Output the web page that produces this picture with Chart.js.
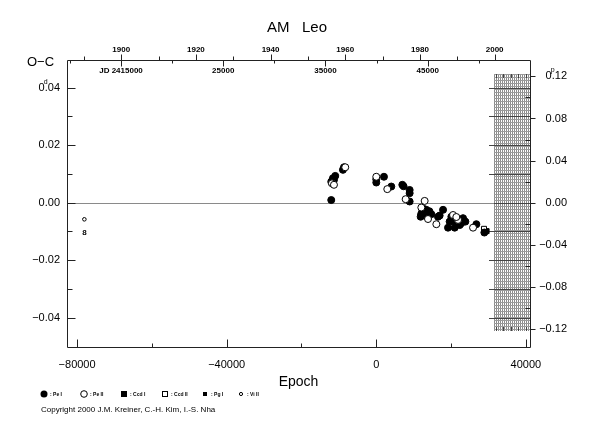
<!DOCTYPE html>
<html><head><meta charset="utf-8">
<script src="https://cdn.jsdelivr.net/npm/chart.js@4.4.1/dist/chart.umd.min.js"></script>
<style>html,body{margin:0;padding:0;background:#fff;}#wrap{position:relative;width:590px;height:425px;}</style>
</head><body><div id="wrap"><canvas id="c" width="590" height="425"></canvas></div>
<script>
// ---- data ----
const chartTitle = "AM   Leo";
const yAxisTitle = "O\u2212C";
const xAxisTitle = "Epoch";
const copyright = "Copyright 2000 J.M. Kreiner, C.-H. Kim, I.-S. Nha";
const period = 0.36579;
const T0 = 2439970;
const xTicks = [-80000, -40000, 0, 40000];
const xMinorTicks = [-60000, -20000, 20000];
const yTicks = [0.04, 0.02, 0, -0.02, -0.04];
const yMinorTicks = [0.03, 0.01, -0.01, -0.03];
const phaseTicks = [0.12, 0.08, 0.04, 0, -0.04, -0.08, -0.12];
const phaseMinorTicks = [0.10, 0.06, 0.02, -0.02, -0.06, -0.10];
const yearTicks = [1900, 1920, 1940, 1960, 1980, 2000];
const yearMinorTicks = [1890, 1910, 1930, 1950, 1970, 1990];
const jdTicks = [15000, 25000, 35000, 45000];
const jdTickLabels = ["JD 2415000", "25000", "35000", "45000"];
const jdMinorTicks = [10000, 20000, 30000, 40000, 50000];
const legendLabels = [": Pe I", ": Pe II", ": Ccd I", ": Ccd II", ": Pg I", ": Vi II"];

const peI_E  = [-12040,-10970,-11590,-12040,-11300,-8640,-8920,0,0,2050,4010,6960,7300,8920,8920,8920,11860,12300,13380,14200,13110,14720,16500,16940,17850,20070,20960,21500,19180,20960,22300,23200,23820,22700,19610,26760,28900,12500,13800,12000];
const peI_OC = [0.0009,0.0093,0.0085,0.0073,0.0080,0.0123,0.0114,0.0081,0.0070,0.0090,0.0056,0.0062,0.0057,0.0044,0.0033,0.0004,-0.0049,-0.0031,-0.0025,-0.0030,-0.0043,-0.0040,-0.0049,-0.0045,-0.0025,-0.0049,-0.0066,-0.0060,-0.0087,-0.0087,-0.0078,-0.0054,-0.0066,-0.0072,-0.0066,-0.0075,-0.0104,-0.0020,-0.0035,-0.0040];
const peII_E  = [-11860,-11320,-8300,0,2940,7850,12930,12040,13830,16060,20520,21860,21400,25870];
const peII_OC = [0.0067,0.0062,0.0123,0.0090,0.0047,0.0012,0.0006,-0.0017,-0.0057,-0.0075,-0.0043,-0.0060,-0.0050,-0.0087];
const ccdI_E = [29500];  const ccdI_OC = [-0.0099];
const ccdII_E = [28800]; const ccdII_OC = [-0.0091];
const pgI_E = [];        const pgI_OC = [];
const viII_E = [-78060]; const viII_OC = [-0.0058];
const viII_count = ["8"];
const hatchEpochStart = 31600;
const hatchOC = [-0.0448, 0.0448];

const xMin = -82700, xMax = 41100, yMin = -0.0502, yMax = 0.0496;

// ---- helpers ----
const epochOfJD = jd => (jd - T0) / period;
const yearOfEpoch = e => 2000 + (T0 + period * e - 2451544.5) / 365.25;
const epochOfYear = y => epochOfJD(2451544.5 + (y - 2000) * 365.25);
const pts = (E, OC) => E.map((e, i) => ({x: e, y: OC[i]}));
const fmt = v => (Math.abs(v) < 1e-9 ? "0.00" : (v < 0 ? "\u2212" : "") + Math.abs(v).toFixed(2));
const FONT = "'Liberation Sans', Arial, Helvetica, sans-serif";
const noGrid = {display: false, drawTicks: false, tickLength: 0};

const deco = {
  id: 'deco',
  beforeDatasetsDraw(chart) {
    const {ctx, chartArea: a, scales: {x, y}} = chart;
    ctx.save();
    // hatched region
    const hx0 = Math.round(x.getPixelForValue(hatchEpochStart));
    const hx1 = Math.round(a.right);
    const hy0 = Math.round(y.getPixelForValue(hatchOC[1]));
    const hy1 = Math.round(y.getPixelForValue(hatchOC[0]));
    ctx.lineWidth = 1;
    ctx.strokeStyle = '#8c8c8c';
    ctx.beginPath();
    for (let px = hx0; px <= hx1; px += 2) { ctx.moveTo(px + 0.5, hy0); ctx.lineTo(px + 0.5, hy1); }
    ctx.stroke();
    ctx.strokeStyle = '#9a9a9a';
    ctx.beginPath();
    for (let py = hy0; py <= hy1; py += 3) { ctx.moveTo(hx0, py + 0.5); ctx.lineTo(hx1, py + 0.5); }
    ctx.stroke();
    // darker ruler ticks every 2000 epochs at hatch top/bottom
    ctx.strokeStyle = '#444';
    ctx.beginPath();
    for (let e = 32000; e <= xMax; e += 2000) {
      const p = Math.round(x.getPixelForValue(e)) + 0.5;
      ctx.moveTo(p, hy0); ctx.lineTo(p, hy0 + 4);
      ctx.moveTo(p, hy1); ctx.lineTo(p, hy1 - 4);
    }
    ctx.stroke();
    ctx.strokeStyle = '#444';
    ctx.beginPath();
    for (let k = -4; k <= 4; k++) {
      const py = Math.round(y.getPixelForValue(k * 0.01)) + 0.5;
      ctx.moveTo(hx0 - 5, py); ctx.lineTo(hx1, py);
    }
    ctx.stroke();
    // zero line
    const y0 = Math.round(y.getPixelForValue(0)) + 0.5;
    ctx.strokeStyle = '#8a8a8a';
    ctx.beginPath(); ctx.moveTo(a.left, y0); ctx.lineTo(hx0, y0); ctx.stroke();
    ctx.restore();
  },
  afterDraw(chart) {
    const {ctx, chartArea: a, scales: {x, y, phase}} = chart;
    ctx.save();
    const L = Math.round(a.left) + 0.5, R = Math.round(a.right) + 0.5;
    const T = Math.round(a.top) + 0.5, B = Math.round(a.bottom) + 0.5;
    ctx.strokeStyle = '#222';
    ctx.lineWidth = 1;
    ctx.beginPath();
    ctx.moveTo(L, T); ctx.lineTo(R, T); ctx.lineTo(R, B); ctx.lineTo(L, B); ctx.closePath();
    xTicks.forEach(v => { const p = Math.round(x.getPixelForValue(v)) + 0.5; ctx.moveTo(p, B); ctx.lineTo(p, B - 8); });
    xMinorTicks.forEach(v => { const p = Math.round(x.getPixelForValue(v)) + 0.5; ctx.moveTo(p, B); ctx.lineTo(p, B - 4); });
    yTicks.forEach(v => { const p = Math.round(y.getPixelForValue(v)) + 0.5; ctx.moveTo(L, p); ctx.lineTo(L + 8, p); });
    yMinorTicks.forEach(v => { const p = Math.round(y.getPixelForValue(v)) + 0.5; ctx.moveTo(L, p); ctx.lineTo(L + 5, p); });
    phaseTicks.forEach(v => { const p = Math.round(phase.getPixelForValue(v)) + 0.5; ctx.moveTo(R, p); ctx.lineTo(R + 5, p); });
    phaseMinorTicks.forEach(v => { const p = Math.round(phase.getPixelForValue(v)) + 0.5; ctx.moveTo(R, p); ctx.lineTo(R - 5, p); });
    yearTicks.forEach(v => { const p = Math.round(x.getPixelForValue(epochOfYear(v))) + 0.5; ctx.moveTo(p, T); ctx.lineTo(p, T - 6); });
    yearMinorTicks.forEach(v => { const p = Math.round(x.getPixelForValue(epochOfYear(v))) + 0.5; ctx.moveTo(p, T); ctx.lineTo(p, T - 4); });
    jdTicks.forEach(v => { const p = Math.round(x.getPixelForValue(epochOfJD(2400000 + v))) + 0.5; ctx.moveTo(p, T); ctx.lineTo(p, T + 6); });
    jdMinorTicks.forEach(v => { const p = Math.round(x.getPixelForValue(epochOfJD(2400000 + v))) + 0.5; ctx.moveTo(p, T); ctx.lineTo(p, T + 3); });
    ctx.stroke();

    ctx.fillStyle = '#000';
    ctx.textBaseline = 'middle';
    ctx.font = "bold 8px " + FONT;
    ctx.textAlign = 'center';
    jdTicks.forEach((v, i) => ctx.fillText(jdTickLabels[i], x.getPixelForValue(epochOfJD(2400000 + v)), 71));
    ctx.font = "15px " + FONT;
    ctx.fillText(chartTitle, 297, 28);
    ctx.font = "13px " + FONT;
    ctx.textAlign = 'left';
    ctx.fillText(yAxisTitle, 27, 62);
    ctx.font = "14px " + FONT;
    ctx.textAlign = 'center';
    ctx.fillText(xAxisTitle, (a.left + a.right) / 2, 382);
    // superscripts d and p
    ctx.font = "11px " + FONT;
    const wl = ctx.measureText("0.04").width, w0 = ctx.measureText("0").width;
    const ly = y.getPixelForValue(0.04);
    const dx = 60 - wl + w0 + 1;
    const wr = ctx.measureText("0.12").width;
    const ry = phase.getPixelForValue(0.12);
    const px = 567 - wr + w0 + 1;
    ctx.font = "7px " + FONT;
    ctx.textAlign = 'center';
    ctx.fillStyle = '#fff';
    ctx.fillRect(dx - 2, ly - 9, 4, 4);
    ctx.fillStyle = '#000';
    ctx.fillText("d", dx, ly - 6);
    ctx.fillText("p", px, ry - 6);
    ctx.font = "bold 8px " + FONT;
    viII_E.forEach((e, i) => ctx.fillText(viII_count[i], x.getPixelForValue(e), y.getPixelForValue(viII_OC[i]) + 13));
    // legend
    const ly2 = 394;
    const lx = [44, 84, 124, 165, 205, 241];
    ctx.lineWidth = 1;
    ctx.strokeStyle = '#000';
    ctx.beginPath(); ctx.arc(lx[0], ly2, 3.5, 0, Math.PI * 2); ctx.fill();
    ctx.beginPath(); ctx.arc(lx[1], ly2, 3.3, 0, Math.PI * 2); ctx.stroke();
    ctx.fillRect(lx[2] - 3, ly2 - 3, 6, 6);
    ctx.strokeRect(lx[3] - 2.5, ly2 - 2.5, 5, 5);
    ctx.fillRect(lx[4] - 2, ly2 - 2, 4, 4);
    ctx.beginPath(); ctx.arc(lx[5], ly2, 1.6, 0, Math.PI * 2); ctx.stroke();
    ctx.font = "bold 5px " + FONT;
    ctx.textAlign = 'left';
    legendLabels.forEach((t, i) => ctx.fillText(t, lx[i] + 6, ly2 + 0.5));
    ctx.font = "8px " + FONT;
    ctx.fillText(copyright, 41, 410);
    ctx.restore();
  }
};

new Chart(document.getElementById('c'), {
  type: 'scatter',
  data: {
    datasets: [
      {label: 'Pe II', data: pts(peII_E, peII_OC), pointStyle: 'circle', pointRadius: 3.5, backgroundColor: '#fff', borderColor: '#000', borderWidth: 1, xAxisID: 'x', yAxisID: 'y'},
      {label: 'Pe I', data: pts(peI_E, peI_OC), pointStyle: 'circle', pointRadius: 3.5, backgroundColor: '#000', borderColor: '#000', borderWidth: 1, xAxisID: 'x', yAxisID: 'y'},
      {label: 'Ccd II', data: pts(ccdII_E, ccdII_OC), pointStyle: 'rect', pointRadius: 3.5, backgroundColor: '#fff', borderColor: '#000', borderWidth: 1, xAxisID: 'x', yAxisID: 'y'},
      {label: 'Ccd I', data: pts(ccdI_E, ccdI_OC), pointStyle: 'rect', pointRadius: 3.5, backgroundColor: '#000', borderColor: '#000', borderWidth: 1, xAxisID: 'x', yAxisID: 'y'},
      {label: 'Pg I', data: pts(pgI_E, pgI_OC), pointStyle: 'rect', pointRadius: 2.5, backgroundColor: '#000', borderColor: '#000', borderWidth: 1, xAxisID: 'x', yAxisID: 'y'},
      {label: 'Vi II', data: pts(viII_E, viII_OC), pointStyle: 'circle', pointRadius: 1.8, backgroundColor: '#fff', borderColor: '#000', borderWidth: 1, xAxisID: 'x', yAxisID: 'y'}
    ]
  },
  options: {
    responsive: false,
    animation: false,
    devicePixelRatio: 1,
    layout: {padding: {left: 0, right: 23, top: 0, bottom: 0}},
    plugins: {legend: {display: false}, tooltip: {enabled: false}, title: {display: false}},
    scales: {
      x: {
        type: 'linear', position: 'bottom', min: xMin, max: xMax,
        grid: noGrid, border: {display: false},
        afterBuildTicks: s => { s.ticks = xTicks.map(v => ({value: v})); },
        afterFit: s => { s.height = 78; },
        ticks: {padding: 11, color: '#000', font: {family: FONT, size: 11}, maxRotation: 0, callback: v => (v < 0 ? "\u2212" : "") + Math.abs(v)}
      },
      year: {
        type: 'linear', position: 'top', min: yearOfEpoch(xMin), max: yearOfEpoch(xMax),
        grid: noGrid, border: {display: false},
        afterBuildTicks: s => { s.ticks = yearTicks.map(v => ({value: v})); },
        afterFit: s => { s.height = 60; },
        ticks: {padding: 5, color: '#000', font: {family: FONT, size: 8, weight: 'bold'}, maxRotation: 0, callback: v => String(v)}
      },
      y: {
        type: 'linear', position: 'left', min: yMin, max: yMax,
        grid: noGrid, border: {display: false},
        afterBuildTicks: s => { s.ticks = yTicks.map(v => ({value: v})); },
        afterFit: s => { s.width = 67; },
        ticks: {padding: 7, color: '#000', font: {family: FONT, size: 11}, callback: v => fmt(v)}
      },
      phase: {
        type: 'linear', position: 'right', min: yMin / period, max: yMax / period,
        grid: noGrid, border: {display: false},
        afterBuildTicks: s => { s.ticks = phaseTicks.map(v => ({value: v})); },
        afterFit: s => { s.width = 37; },
        ticks: {padding: 7, crossAlign: 'far', color: '#000', font: {family: FONT, size: 11}, callback: v => fmt(v)}
      }
    }
  },
  plugins: [deco]
});
</script>
</body></html>
